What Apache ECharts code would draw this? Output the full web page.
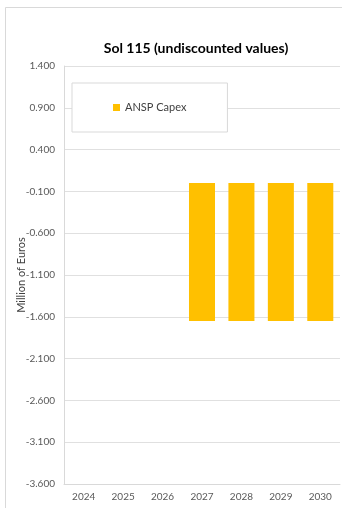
<!DOCTYPE html>
<html>
<head>
<meta charset="utf-8">
<style>
  html, body { margin: 0; padding: 0; background: #fff; }
  #chart { width: 342px; height: 508px; }
</style>
<script src="https://cdn.jsdelivr.net/npm/echarts@6/dist/echarts.min.js"></script>
</head>
<body>
<div id="chart"></div>
<script>
// Yearly ANSP capital expenditure, million euros
const years = ['2024', '2025', '2026', '2027', '2028', '2029', '2030'];
const anspCapex = [0, 0, 0, -1.65, -1.65, -1.65, -1.65];
const yMin = -3.6;
const yMax = 1.4;
const yStep = 0.5;

const chart = echarts.init(document.getElementById('chart'));
const font = 'Lato, "Open Sans", "Liberation Sans", sans-serif';

chart.setOption({
  animation: false,
  backgroundColor: '#fff',
  graphic: [{
    type: 'rect',
    shape: { x: 5.5, y: 7.5, width: 500, height: 700 },
    style: { fill: 'none', stroke: '#d9d9d9', lineWidth: 1 },
    silent: true,
    z: -1
  }, {
    // vertical axis title
    type: 'text',
    x: 21,
    y: 275,
    rotation: Math.PI / 2,
    style: {
      text: 'Million of Euros',
      fontFamily: font,
      fontSize: 11,
      fill: '#404040',
      align: 'center',
      verticalAlign: 'middle'
    },
    silent: true
  }],
  title: {
    text: 'Sol 115 (undiscounted values)',
    left: 191,
    top: 36,
    textAlign: 'center',
    textStyle: { fontFamily: font, fontSize: 14, fontWeight: 'bold', color: '#000' }
  },
  legend: {
    left: 72,
    top: 83,
    orient: 'horizontal',
    padding: [19, 41],
    borderColor: '#d9d9d9',
    borderWidth: 1,
    backgroundColor: '#fff',
    itemWidth: 7,
    itemHeight: 7,
    itemGap: 5,
    icon: 'rect',
    textStyle: { fontFamily: font, fontSize: 11, color: '#404040', padding: [0, 0, 0, 0] },
    data: ['ANSP Capex']
  },
  grid: { left: 64, top: 66, right: 2, bottom: 24, containLabel: false },
  xAxis: {
    type: 'category',
    data: years,
    axisLine: { onZero: false, lineStyle: { color: '#d9d9d9' } },
    axisTick: { show: false },
    axisLabel: { fontFamily: font, fontSize: 10, color: '#595959', margin: 8 }
  },
  yAxis: {
    type: 'value',
    min: yMin,
    max: yMax,
    interval: yStep,
    axisLine: { show: true, lineStyle: { color: '#d9d9d9' } },
    axisTick: { show: false },
    splitLine: { lineStyle: { color: '#e0e0e0' } },
    axisLabel: {
      fontFamily: font,
      fontSize: 10,
      color: '#595959',
      margin: 9,
      formatter: v => v.toFixed(3)
    }
  },
  series: [{
    name: 'ANSP Capex',
    type: 'bar',
    data: anspCapex,
    barWidth: '66%',
    itemStyle: { color: '#FFC000' }
  }]
});
</script>
</body>
</html>
